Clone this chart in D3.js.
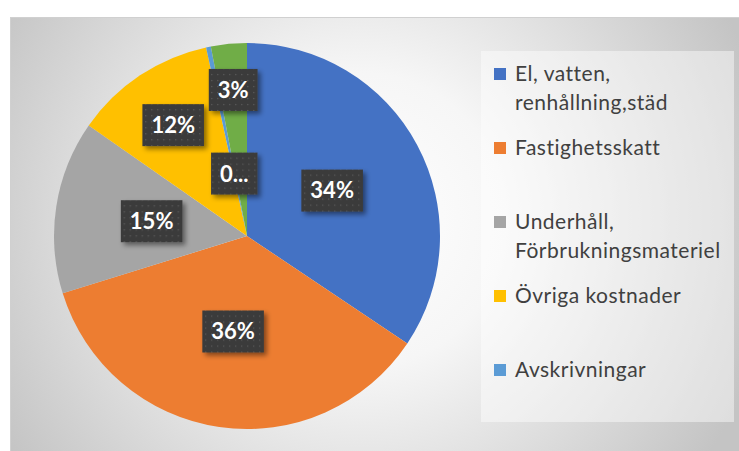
<!DOCTYPE html>
<html>
<head>
<meta charset="utf-8">
<script src="https://cdn.jsdelivr.net/npm/d3@7"></script>
<style>
  body { margin: 0; background: #fff; }
  svg { display: block; }
</style>
</head>
<body>
<svg id="chart" width="739" height="451"></svg>
<script>
// Data
var categories = ["El, vatten, renhållning,städ", "Fastighetsskatt", "Underhåll, Förbrukningsmateriel",
    "Övriga kostnader", "Avskrivningar", "Övrigt"];
var values = [34.4, 35.8, 14.5, 11.9, 0.4, 3.0];
var labels = ["34%", "36%", "15%", "12%", "0...", "3%"];
var legendLines = [["El, vatten,", "renhållning,städ"], ["Fastighetsskatt"], ["Underhåll,", "Förbrukningsmateriel"],
    ["Övriga kostnader"], ["Avskrivningar"]];
var colors = ["#4472C4", "#ED7D31", "#A5A5A5", "#FFC000", "#5B9BD5", "#70AD47"];

// label distance from centre (fraction of radius), Excel nudges the small ones
var labelDist = [0.5, 0.5, 0.5, 0.69, 0.33, 0.76];

var WIDTH = 739, HEIGHT = 451;
var svg = d3.select("#chart");
var defs = svg.append("defs");

// background gradient
var bg = defs.append("radialGradient").attr("id", "bgGrad")
    .attr("gradientUnits", "userSpaceOnUse")
    .attr("cx", 360).attr("cy", 220).attr("r", 420);
bg.append("stop").attr("offset", "0").attr("stop-color", "#ffffff");
bg.append("stop").attr("offset", "0.35").attr("stop-color", "#f6f6f6");
bg.append("stop").attr("offset", "1").attr("stop-color", "#c4c4c4");

// label box pattern
var pat = defs.append("pattern").attr("id", "dots")
    .attr("patternUnits", "userSpaceOnUse").attr("width", 6).attr("height", 6);
pat.append("rect").attr("width", 6).attr("height", 6).attr("fill", "#3b3b3b");
pat.append("rect").attr("x", 2).attr("y", 2).attr("width", 1.2).attr("height", 1.2).attr("fill", "#5c5c5c");

var shadow = defs.append("filter").attr("id", "shadow")
    .attr("x", "-30%").attr("y", "-30%").attr("width", "160%").attr("height", "160%");
shadow.append("feDropShadow").attr("dx", 3).attr("dy", 3).attr("stdDeviation", 2.5)
    .attr("flood-color", "#000").attr("flood-opacity", 0.45);

// chart area
svg.append("rect")
    .attr("x", 10.5).attr("y", 17.5)
    .attr("width", WIDTH - 10).attr("height", HEIGHT - 17)
    .attr("fill", "url(#bgGrad)")
    .attr("stroke", "#d0d0d0");

// legend box
svg.append("rect")
    .attr("x", 481).attr("y", 51).attr("width", 253).attr("height", 371)
    .attr("fill", "#ffffff").attr("fill-opacity", 0.45);

// pie
var cx = 247, cy = 236, radius = 193;
var pie = d3.pie().sort(null).value(function (d) { return d; });
var arcs = pie(values);
var arc = d3.arc().innerRadius(0).outerRadius(radius);

var g = svg.append("g").attr("transform", "translate(" + [cx, cy] + ")");
g.selectAll("path.slice")
    .data(arcs)
    .enter()
    .append("path")
    .attr("class", "slice")
    .attr("d", arc)
    .attr("fill", function (d, i) { return colors[i]; });

// data labels
var lab = g.selectAll("g.lab")
    .data(arcs)
    .enter()
    .append("g")
    .attr("class", "lab")
    .attr("transform", function (d, i) {
        var r = radius * labelDist[i];
        var c = d3.arc().innerRadius(r).outerRadius(r).centroid(d);
        return "translate(" + c + ")";
    });

lab.append("text")
    .attr("class", "lt")
    .attr("text-anchor", "middle")
    .attr("dy", "0.36em")
    .style("font-family", "Lato, 'Open Sans', sans-serif")
    .style("font-weight", "bold")
    .style("font-size", "22px")
    .attr("fill", "#fff")
    .text(function (d, i) { return labels[i]; });

lab.each(function () {
    var el = d3.select(this);
    var bb = el.select("text").node().getBBox();
    el.insert("rect", "text")
        .attr("x", bb.x - 9).attr("y", -21)
        .attr("width", bb.width + 18).attr("height", 42)
        .attr("fill", "url(#dots)")
        .attr("filter", "url(#shadow)");
});

// legend
var leg = svg.append("g").attr("class", "legend");
var item = leg.selectAll("g.item")
    .data(legendLines)
    .enter()
    .append("g")
    .attr("class", "item")
    .attr("transform", function (d, i) { return "translate(494," + (74 + i * 74) + ")"; });

item.append("rect")
    .attr("x", 0).attr("y", -6)
    .attr("width", 12).attr("height", 12)
    .attr("fill", function (d, i) { return colors[i]; });

item.append("text")
    .attr("x", 21)
    .style("font-family", "Lato, 'Open Sans', sans-serif")
    .style("font-size", "21px")
    .style("letter-spacing", "0.5px")
    .attr("fill", "#404040")
    .selectAll("tspan")
    .data(function (d) { return d; })
    .enter()
    .append("tspan")
    .attr("x", 21)
    .attr("y", function (d, j) { return j * 29; })
    .attr("dy", "0.35em")
    .text(function (d) { return d; });
</script>
</body>
</html>
